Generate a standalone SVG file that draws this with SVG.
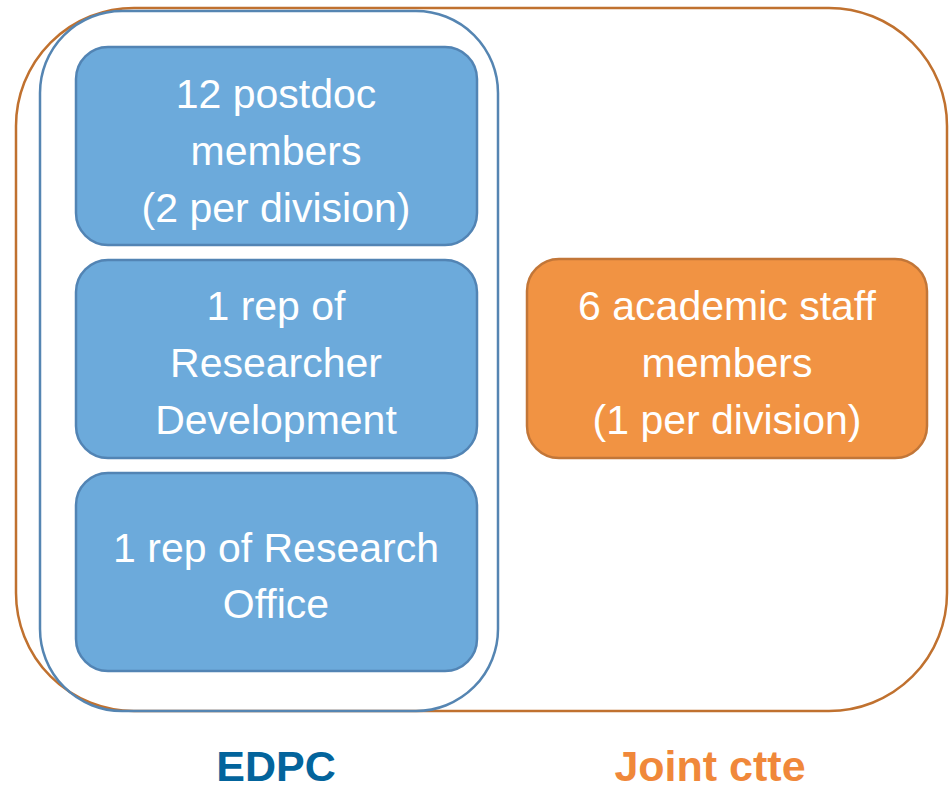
<svg xmlns="http://www.w3.org/2000/svg" width="952" height="791" viewBox="0 0 952 791">
<style>
.box{fill:#6CAADB;stroke:#5284B4;stroke-width:2.5}
.obox{fill:#F19343;stroke:#C27638;stroke-width:2.5}
.t{font-family:"Liberation Sans",Arial,sans-serif;font-size:41px;fill:#FFFFFF;text-anchor:middle}
.lbl{font-family:"Liberation Sans",Arial,sans-serif;font-size:43px;font-weight:bold;text-anchor:middle}
</style>
<rect width="952" height="791" fill="#FFFFFF"/>
<g id="joint-ctte-group">
<rect x="16" y="8" width="931" height="703" rx="118" ry="118" fill="none" stroke="#C0712F" stroke-width="2.5"/>
</g>
<g id="edpc-group">
<rect x="40" y="11" width="458" height="700" rx="82" ry="82" fill="none" stroke="#5585B2" stroke-width="2.5"/>
</g>
<g id="postdoc">
<rect class="box" x="76" y="47" width="401" height="198" rx="32" ry="32"/>
<text class="t" x="276" y="108">12 postdoc</text>
<text class="t" x="276" y="165">members</text>
<text class="t" x="276" y="222">(2 per division)</text>
</g>
<g id="researcher-dev">
<rect class="box" x="76" y="260" width="401" height="198" rx="32" ry="32"/>
<text class="t" x="276" y="320">1 rep of</text>
<text class="t" x="276" y="377">Researcher</text>
<text class="t" x="276" y="434">Development</text>
</g>
<g id="research-office">
<rect class="box" x="76" y="473" width="401" height="198" rx="32" ry="32"/>
<text class="t" x="276" y="562">1 rep of Research</text>
<text class="t" x="276" y="618">Office</text>
</g>
<g id="academic-staff">
<rect class="obox" x="527" y="259" width="400" height="199" rx="32" ry="32"/>
<text class="t" x="727" y="320">6 academic staff</text>
<text class="t" x="727" y="377">members</text>
<text class="t" x="727" y="434">(1 per division)</text>
</g>
<g id="connectors"></g>
<g id="labels">
<text class="lbl" x="276" y="781" fill="#03649C">EDPC</text>
<text class="lbl" x="710" y="781" fill="#F0883A">Joint ctte</text>
</g>
</svg>
